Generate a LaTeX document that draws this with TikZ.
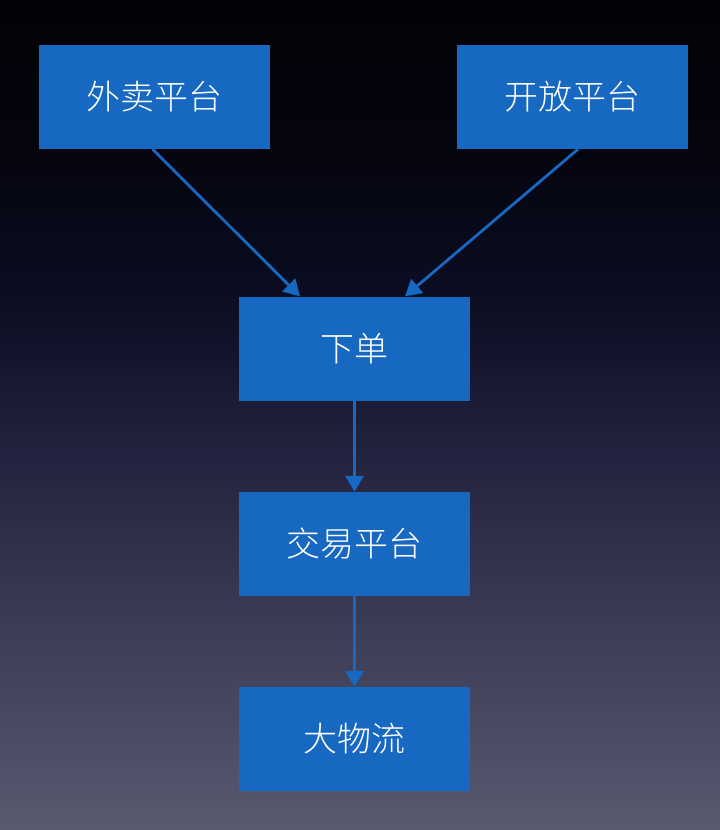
\documentclass[tikz,border=0pt]{standalone}
\usepackage{fontspec}
\newfontfamily\cjk{Noto Sans CJK SC Light}
\usetikzlibrary{arrows.meta}
\definecolor{boxblue}{HTML}{1768C0}
\definecolor{bga}{HTML}{020207}
\definecolor{bgb}{HTML}{05050F}
\definecolor{bgc}{HTML}{0B0D22}
\definecolor{bgd}{HTML}{22223E}
\definecolor{bge}{HTML}{3E3F58}
\definecolor{bgf}{HTML}{585A70}
\pgfdeclareverticalshading{bgshade}{100bp}{color(0bp)=(bgf); color(25bp)=(bgf); color(36bp)=(bge); color(48bp)=(bgd); color(57bp)=(bgc); color(66bp)=(bgb); color(75bp)=(bga); color(100bp)=(bga)}
\tikzset{
  blk/.style={fill=boxblue, draw=none, minimum width=231pt, minimum height=104pt, inner sep=0pt, text=white, font=\cjk\fontsize{34}{40}\selectfont},
  conn/.style={draw=boxblue, line width=2.8pt, -{Triangle[length=16pt,width=18pt]}},
}
\begin{document}
\begin{tikzpicture}[x=1pt,y=1pt]
\useasboundingbox (0,0) rectangle (720,-830);
\shade[shading=bgshade] (0,0) rectangle (720,-830);
\node[blk] (waimai) at (154.5,-97) {外卖平台};
\node[blk] (kaifang) at (572,-97) {开放平台};
\node[blk] (xiadan) at (354.5,-348.5) {下单};
\node[blk] (jiaoyi) at (354.5,-544) {交易平台};
\node[blk] (wuliu) at (354.5,-739) {大物流};
\draw[conn] (waimai.south) ++(-2,0) coordinate (w1) -- (xiadan.north -| 300,0);
\draw[conn] (kaifang.south) ++(6,0) coordinate (k1) -- (xiadan.north -| 405,0);
\draw[conn] (xiadan) -- (jiaoyi);
\draw[conn] (jiaoyi) -- (wuliu);
\end{tikzpicture}
\end{document}
